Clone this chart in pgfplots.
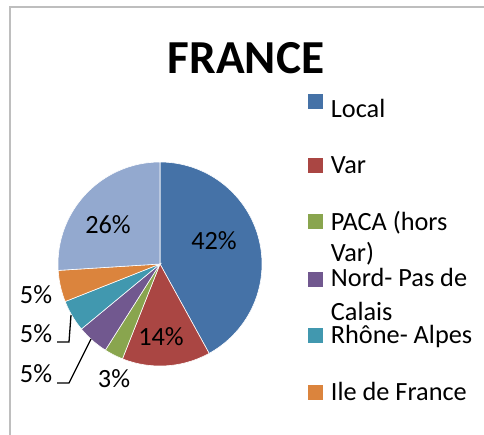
\documentclass[border=0pt]{standalone}
\usepackage{pgfplots}
\pgfplotsset{compat=1.18}
\usepackage{fontspec}
\setmainfont{Carlito}
\definecolor{cLocal}{HTML}{4572A7}
\definecolor{cVar}{HTML}{AA4643}
\definecolor{cPACA}{HTML}{89A54E}
\definecolor{cNord}{HTML}{71588F}
\definecolor{cRhone}{HTML}{4198AF}
\definecolor{cIdF}{HTML}{DB843D}
\definecolor{cAutre}{HTML}{93A9CF}
\definecolor{frame}{HTML}{BEBEBE}
\tikzset{lbl/.style={font=\fontsize{26.4}{31}\selectfont},
  leg/.style={font=\fontsize{26.4}{31}\selectfont, anchor=base west, inner sep=0pt}}
% slice: cumulative start (%), value (%), colour
\newcommand{\slice}[3]{%
  \pgfmathsetmacro{\angA}{90-3.6*(#1+#2)}%
  \pgfmathsetmacro{\angB}{90-3.6*#1}%
  \addplot[fill=#3, draw=white, line width=0.6pt, domain=\angA:\angB, samples=80]
    ({102*cos(x)},{102*sin(x)}) -- (axis cs:0,0) -- cycle;
}
\begin{document}
\begin{tikzpicture}
\begin{axis}[
  at={(0,0)}, anchor=south west,
  x=1bp, y=1bp,
  xmin=-160, xmax=324, ymin=-171, ymax=264,
  hide axis, clip=false,
]
% data: Local 42, Var 14, PACA 3, Nord 5, Rhone 5, IdF 5, other 26
\slice{0}{42}{cLocal}
\slice{42}{14}{cVar}
\slice{56}{3}{cPACA}
\slice{59}{5}{cNord}
\slice{64}{5}{cRhone}
\slice{69}{5}{cIdF}
\slice{74}{26}{cAutre}
% frame
\draw[frame, line width=1.5pt] (axis cs:-150,-171) -- (axis cs:-150,257) -- (axis cs:324,257);
% title
\node[font=\fontsize{47.5}{52}\selectfont\bfseries] at (axis cs:86,206) {FRANCE};
% data labels
\node[lbl] at (axis cs:54,23) {42\%};
\node[lbl] at (axis cs:1,-73) {14\%};
\node[lbl] at (axis cs:-52,39) {26\%};
\node[lbl] at (axis cs:-46,-115) {3\%};
\node[lbl] at (axis cs:-124,-31) {5\%};
\node[lbl] at (axis cs:-124,-70) {5\%};
\node[lbl] at (axis cs:-124,-110) {5\%};
\draw[black, line width=1.3pt] (axis cs:-103,-78) -- (axis cs:-91,-78) -- (axis cs:-89,-51);
\draw[black, line width=1.3pt] (axis cs:-103,-119) -- (axis cs:-91,-119) -- (axis cs:-69,-75);
% legend
\fill[cLocal] (axis cs:148,154.5) rectangle (axis cs:163,169.5);
\fill[cVar] (axis cs:148,91) rectangle (axis cs:163,106);
\fill[cPACA] (axis cs:148,34.5) rectangle (axis cs:163,49.5);
\fill[cNord] (axis cs:148,-23) rectangle (axis cs:163,-8);
\fill[cRhone] (axis cs:148,-79.5) rectangle (axis cs:163,-64.5);
\fill[cIdF] (axis cs:148,-136.5) rectangle (axis cs:163,-121.5);
\node[leg] at (axis cs:170.7,147) {Local};
\node[leg] at (axis cs:170.7,90.7) {Var};
\node[leg] at (axis cs:170.7,34) {PACA (hors};
\node[leg] at (axis cs:170.7,2.3) {Var)};
\node[leg] at (axis cs:170.7,-22.7) {Nord- Pas de};
\node[leg] at (axis cs:170.7,-56) {Calais};
\node[leg] at (axis cs:170.7,-79.3) {Rhône- Alpes};
\node[leg] at (axis cs:170.7,-136.7) {Ile de France};
\end{axis}
\pgfresetboundingbox
\path (0,0) rectangle (484bp,435bp);
\end{tikzpicture}
\end{document}
